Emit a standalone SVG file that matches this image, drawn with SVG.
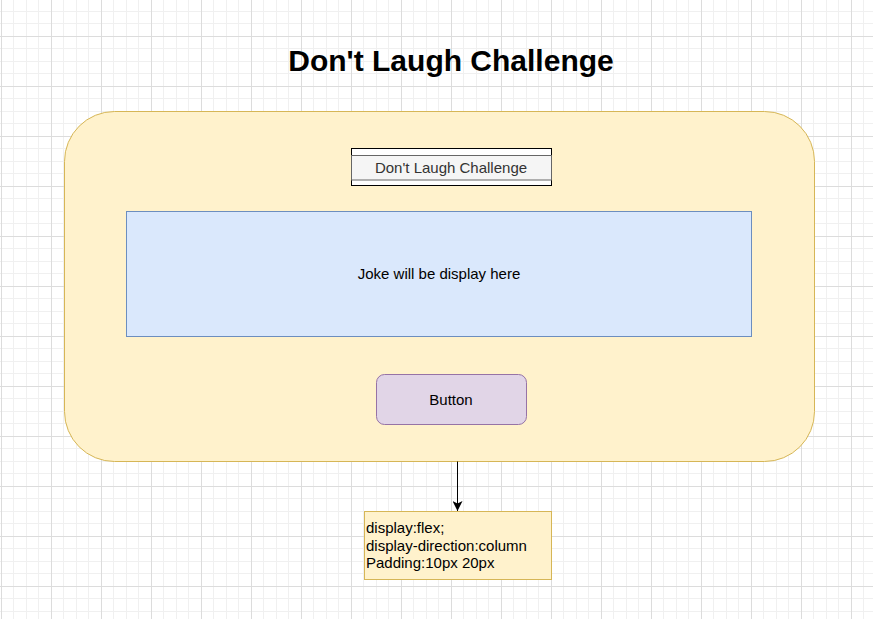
<svg xmlns="http://www.w3.org/2000/svg" width="873" height="619" viewBox="0 0 873 619">
<defs>
<pattern id="grid" x="1" y="36" width="50" height="50" patternUnits="userSpaceOnUse">
<path d="M12.5 0V50M25.5 0V50M37.5 0V50M0 12.5H50M0 25.5H50M0 37.5H50" stroke="#f0f0f0" stroke-width="1" fill="none"/>
<path d="M0.5 0V50M0 0.5H50" stroke="#dcdcdc" stroke-width="1" fill="none"/>
</pattern>
<marker id="arrow" viewBox="0 0 10 10" refX="10" refY="5" markerWidth="10" markerHeight="10" markerUnits="userSpaceOnUse" orient="auto">
<path d="M0 0L10 5L0 10L2.5 5Z" fill="#000"/>
</marker>
<style>
.t{font-family:"Liberation Sans",Arial,sans-serif;font-size:15px;}
.c{text-anchor:middle;}
</style>
</defs>
<rect width="873" height="619" fill="#ffffff"/>
<rect width="873" height="619" fill="url(#grid)"/>

<text x="451" y="71" class="c" style="font-family:'Liberation Sans',Arial,sans-serif;font-size:30px;font-weight:bold" fill="#000">Don't Laugh Challenge</text>

<g id="container">
<rect x="64.5" y="111.5" width="750" height="350" rx="50" ry="50" fill="#fff2cc" stroke="#d6b656" stroke-width="1"/>
</g>

<g id="header">
<rect x="351.5" y="148.5" width="200" height="37" fill="#ffffff" stroke="#000" stroke-width="1"/>
<rect x="351.5" y="155.5" width="200" height="24.5" fill="#f5f5f5" stroke="#666666" stroke-width="1"/>
<text x="451" y="173" class="t c" fill="#333333">Don't Laugh Challenge</text>
</g>

<g id="joke">
<rect x="126.5" y="211.5" width="625" height="125" fill="#dae8fc" stroke="#6c8ebf" stroke-width="1"/>
<text x="439" y="279" class="t c" fill="#000">Joke will be display here</text>
</g>

<g id="button">
<rect x="376.5" y="374.5" width="150" height="50" rx="8" ry="8" fill="#e1d5e7" stroke="#9673a6" stroke-width="1"/>
<text x="451" y="405" class="t c" fill="#000">Button</text>
</g>

<g id="connectors">
<path d="M457.5 461.5V511" stroke="#000" stroke-width="1" fill="none" marker-end="url(#arrow)"/>
</g>

<g id="note">
<rect x="364.5" y="511.5" width="187" height="68" fill="#fff2cc" stroke="#d6b656" stroke-width="1"/>
<text class="t" fill="#000"><tspan x="366" y="533">display:flex;</tspan><tspan x="366" y="551">display-direction:column</tspan><tspan x="366" y="568">Padding:10px 20px</tspan></text>
</g>
</svg>
